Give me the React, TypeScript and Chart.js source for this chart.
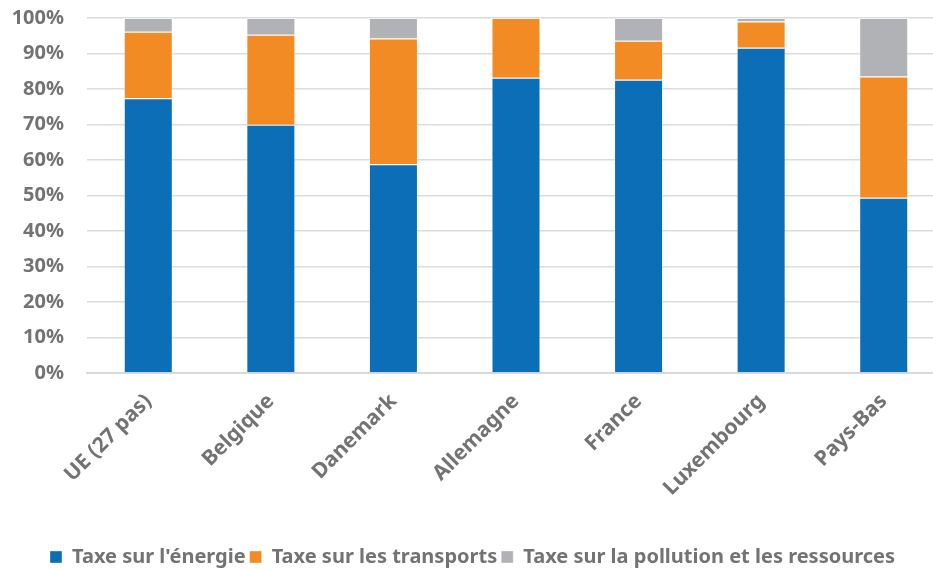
import React, { useEffect, useRef } from "react";
import { Chart, registerables } from "chart.js";

Chart.register(...registerables);

const categories = ["UE (27 pas)", "Belgique", "Danemark", "Allemagne", "France", "Luxembourg", "Pays-Bas"];
const energie = [77.4, 69.9, 58.8, 83.2, 82.6, 91.6, 49.4];
const transports = [18.7, 25.4, 35.4, 16.8, 11.0, 7.4, 34.1];
const pollution = [3.9, 4.7, 5.8, 0.0, 6.4, 1.0, 16.5];
const seriesNames = ["Taxe sur l'énergie", "Taxe sur les transports", "Taxe sur la pollution et les ressources"];

const TEXT = "#737373";
const FONT = '"Noto Sans", "Open Sans", sans-serif';

export default function App() {
  const ref = useRef<HTMLCanvasElement | null>(null);
  useEffect(() => {
    document.documentElement.style.overflow = "hidden";
    document.body.style.overflow = "hidden";
    const ctx = ref.current!;
    const chart = new Chart(ctx, {
      type: "bar",
      data: {
        labels: categories,
        datasets: [
          { label: seriesNames[0], data: energie, backgroundColor: "#0d6eb8", borderColor: "rgba(255,255,255,0.35)", borderWidth: 1 },
          { label: seriesNames[1], data: transports, backgroundColor: "#f38b25", borderColor: "rgba(255,255,255,0.35)", borderWidth: 1 },
          { label: seriesNames[2], data: pollution, backgroundColor: "#b1b2b5", borderColor: "rgba(255,255,255,0.35)", borderWidth: 1 },
        ],
      },
      options: {
        animation: false,
        responsive: false,
        maintainAspectRatio: false,
        layout: { padding: { top: 18, left: 0, right: 5, bottom: -7 } },
        datasets: { bar: { categoryPercentage: 1, barPercentage: 0.4 } },
        scales: {
          x: {
            stacked: true,
            grid: { display: false },
            border: { display: true, color: "#d9d9d9", width: 2 },
            ticks: {
              color: TEXT,
              font: { family: FONT, size: 21, weight: "bold" },
              minRotation: 45,
              maxRotation: 45,
              padding: 8,
            },
            afterFit: (scale: any) => {
              scale.height = 170;
            },
          },
          y: {
            stacked: true,
            min: 0,
            max: 100,
            grid: { color: "#dcdcdc", lineWidth: 1.5, drawTicks: true, tickLength: 21, tickColor: "rgba(0,0,0,0)" },
            border: { display: false },
            ticks: {
              stepSize: 10,
              color: TEXT,
              padding: 2,
              font: { family: FONT, size: 20, weight: "bold" },
              callback: (v: any) => v + "%",
            },
            afterFit: (scale: any) => {
              scale.width = 87;
            },
          },
        },
        plugins: {
          legend: {
            position: "bottom",
            labels: {
              color: TEXT,
              font: { family: FONT, size: 20, weight: "bold" },
              boxWidth: 12,
              boxHeight: 12,
              padding: 4,
            },
          },
          tooltip: { enabled: false },
        },
      },
    });
    return () => chart.destroy();
  }, []);
  return (
    <div style={{ position: "absolute", left: 0, top: 0, width: 950, height: 570 }}>
      <canvas ref={ref} width={950} height={570} style={{ width: 950, height: 570 }} />
    </div>
  );
}
